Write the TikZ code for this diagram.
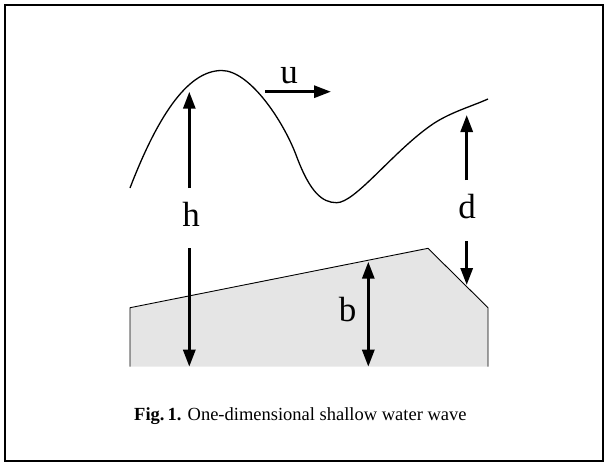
\documentclass[tikz,border=0pt]{standalone}
\usepackage{fontspec}
\setmainfont{Liberation Serif}
\usetikzlibrary{arrows.meta}
\tikzset{
  vec/.style={line width=3pt,-{Triangle[length=17pt,width=12pt]}},
  dvec/.style={line width=3pt,{Triangle[length=17pt,width=12pt]}-{Triangle[length=17pt,width=12pt]}},
  lbl/.style={font=\fontsize{35}{40}\selectfont,inner sep=0pt},
  ground/.style={fill=black!10,draw=none},
}
\begin{document}
\begin{tikzpicture}[x=1pt,y=-1pt]
  \useasboundingbox (0,0) rectangle (609,467);
  \draw[line width=2pt] (5,5) rectangle (603,461);
  % sea floor
  \fill[ground] (130,366.7) -- (130,307.7) -- (428,248.3) -- (488,307.7) -- (488,366.7) -- cycle;
  \draw[line width=0.9pt] (130,366.7) -- (130,307.7) -- (428,248.3) -- (488,307.7) -- (488,366.7);
  % water surface
  \draw[line width=1.3pt] (130,188) .. controls (160,110) and (190,70.5) .. (221.7,70.5)
    .. controls (250,70.5) and (284,122) .. (296.7,156.7)
    .. controls (310,192) and (322,202.7) .. (336.7,202.7)
    .. controls (355,202.7) and (392,153) .. (430,126)
    .. controls (448,113) and (470,107) .. (488,99);
  % markers
  \coordinate (hUp) at (189.3,188);
  \coordinate (hTop) at (189.3,91.7);
  \coordinate (hDn) at (189.3,248.3);
  \coordinate (hBot) at (189.3,366.7);
  \coordinate (dUp) at (466.7,180);
  \coordinate (dTop) at (466.7,115);
  \coordinate (dDn) at (466.7,241);
  \coordinate (dBot) at (466.7,285);
  \coordinate (bTop) at (368.3,261.7);
  \coordinate (bBot) at (368.3,366.7);
  \coordinate (uFrom) at (265,91.7);
  \coordinate (uTo) at (331,91.7);
  \node[lbl] (h) at (191,214) {h};
  \node[lbl] (d) at (467,207) {d};
  \node[lbl] (b) at (347.5,310) {b};
  \node[lbl] (u) at (289,75.5) {u};
  \draw[vec] (hUp) -- (hTop);
  \draw[vec] (hDn) -- (hBot);
  \draw[vec] (dUp) -- (dTop);
  \draw[vec] (dDn) -- (dBot);
  \draw[dvec] (bTop) -- (bBot);
  \draw[vec] (uFrom) -- (uTo);
  % caption
  \node[anchor=base west,inner sep=0pt,font=\fontsize{18.5}{22}\selectfont] (cap) at (134,420)
    {\textbf{Fig.\,1.} One-dimensional shallow water wave};
\end{tikzpicture}
\end{document}
